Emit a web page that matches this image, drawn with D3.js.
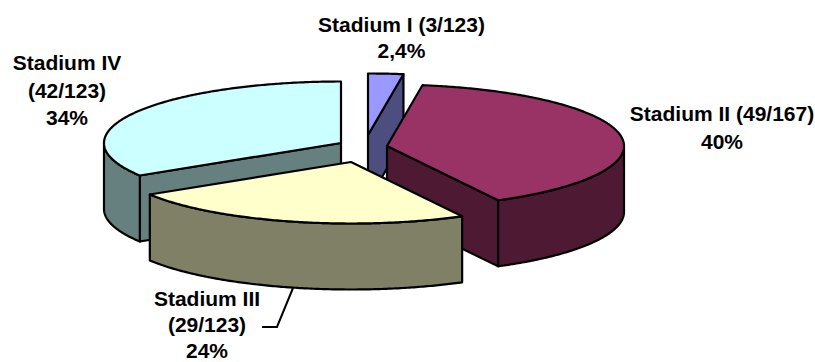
<!DOCTYPE html>
<html><head><meta charset="utf-8">
<style>html,body{margin:0;padding:0;background:#fff}svg{display:block}
text{font-family:"Liberation Sans",Arial,sans-serif;font-weight:bold;font-size:21px;fill:#000;text-anchor:middle}</style>
<script src="https://cdn.jsdelivr.net/npm/d3@7"></script></head><body>
<script>
const categories = ["Stadium I", "Stadium II", "Stadium III", "Stadium IV"];
const percents = [2.4, 40, 24, 34];
const labelLines = [
  ["Stadium I (3/123)", "2,4%"],
  ["Stadium II (49/167)", "40%"],
  ["Stadium III", "(29/123)", "24%"],
  ["Stadium IV", "(42/123)", "34%"]
];

// layout and style, separate from the data
const W = 815, H = 362, RX = 237, RY = 61.5, DEPTH = 66;
const centers = [[368,135],[387,146],[351,162],[341,143]];
const topColors = ["#9999FF","#993366","#FFFFCC","#CCFFFF"];
const sideColors = ["#4D4D80","#4D1933","#808066","#668080"];
const labelPos = [[401.5,32],[722,121],[207,306],[67,70]];
const labelStep = [25.5,28,26,27.5];
const drawOrder = [3,0,1,2];

const svg = d3.select("body").append("svg").attr("width",W).attr("height",H);
const slices = d3.pie().sort(null).startAngle(0).endAngle(2*Math.PI)(percents);

const line = d3.line();
function pt(c,a,dz){ return [c[0]+RX*Math.sin(a), c[1]-RY*Math.cos(a)+dz]; }
function arcPts(c,a0,a1,dz){
  const n = Math.max(2,Math.ceil(Math.abs(a1-a0)/0.01));
  return d3.range(n+1).map(i=>pt(c,a0+(a1-a0)*i/n,dz));
}
function face(pts,fill){
  svg.append("path").attr("d",line(pts)+"Z").attr("fill",fill)
    .attr("stroke","#000").attr("stroke-width",2.2).attr("stroke-linejoin","round");
}
drawOrder.forEach(i=>{
  const s = slices[i], c = centers[i], a0=s.startAngle, a1=s.endAngle;
  const low=[c[0],c[1]+DEPTH], side=sideColors[i];
  if (a0>Math.PI && a0<2*Math.PI) face([c,pt(c,a0,0),pt(c,a0,DEPTH),low],side);
  if (a1>0 && a1<Math.PI) face([c,pt(c,a1,0),pt(c,a1,DEPTH),low],side);
  const w0=Math.max(a0,Math.PI/2), w1=Math.min(a1,1.5*Math.PI);
  if (w1>w0) face(arcPts(c,w0,w1,0).concat(arcPts(c,w1,w0,DEPTH)),side);
  face([c].concat(arcPts(c,a0,a1,0)),topColors[i]);
});

// leader line of Stadium III
svg.append("path").attr("d",line([[262,327],[277,327],[293,288]]))
  .attr("fill","none").attr("stroke","#000").attr("stroke-width",2);

categories.forEach((name,i)=>{
  const t = svg.append("text").attr("aria-label",name);
  labelLines[i].forEach((l,j)=>{
    t.append("tspan").attr("x",labelPos[i][0]).attr("y",labelPos[i][1]+j*labelStep[i]).text(l);
  });
});
</script></body></html>
